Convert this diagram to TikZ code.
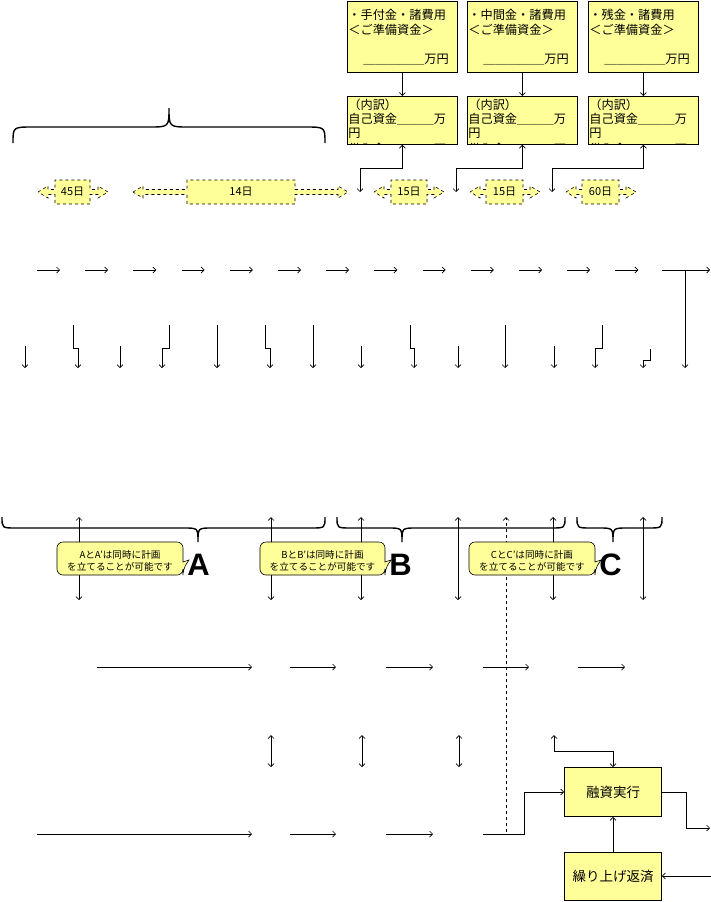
\documentclass[tikz,border=0pt]{standalone}
\usepackage{fontspec}
\setmainfont{Noto Sans CJK JP}
\newfontfamily\lettre{Liberation Sans}
\usetikzlibrary{positioning}
\usetikzlibrary{arrows.meta}

\definecolor{jaune}{HTML}{FFFF99}

\tikzset{
  >={Straight Barb[length=3pt, width=6pt]},
  boite/.style={draw, fill=jaune, line width=0.8pt, inner sep=0pt, anchor=north west},
  texte/.style={inner sep=0pt, anchor=west, font=\fontsize{12.2}{15}\selectfont},
  fleche/.style={->, line width=0.7pt},
  accolade/.style={line width=1.4pt},
}

\begin{document}
\begin{tikzpicture}[x=1pt, y=-1pt, line width=0.7pt]
        \useasboundingbox (0,0) rectangle (711,902);
        \def\hb{71}   % hauteur des cadres du haut
        \def\hc{48}   % hauteur des cadres du detail

        % Cadres des fonds a preparer et leur detail
        \foreach \x/\nom/\xj [count=\i] in {347/手付金/360, 467/中間金/456, 588/残金/552} {
            \node[boite, minimum width=110pt, minimum height=\hb pt] (haut\i) at (\x,1) {};
            \node[texte] (titre\i) at (\x+1,15) {・\nom・諸費用};
            \node[texte] (prep\i) at (\x+1,30) {＜ご準備資金＞};
            \node[texte] (montant\i) at (\x+16,60) {＿＿＿＿＿万円};
            \node[boite, minimum width=110pt, minimum height=\hc pt] (bas\i) at (\x,96) {};
            \begin{scope}
                \clip (bas\i.north west) rectangle (bas\i.south east);
                \node[texte] (detail\i) at (\x+1,105) {（内訳）};
                \node[texte] (propre\i) at (\x+1,119) {自己資金＿＿＿万};
                \node[texte] (yen\i) at (\x+1,133) {円};
                \node[texte] (pret\i) at (\x+1,149) {借入金＿＿＿＿万};
            \end{scope}
            \draw[fleche] (haut\i) -- (bas\i);
            \coordinate (jour\i) at (\xj,192);
            \draw[<->] (bas\i.south) -- ++(0,24) -| (jour\i);
        }

        % Durees (fleches pointillees)
        \foreach \a/\b/\c/\d/\lab [count=\k] in {38/55/90/108/45日, 133/187/295/348/14日,
                374/391/427/444/15日, 470/486/523/540/15日, 566/582/619/636/60日} {
            \draw[fill=jaune, dashed, line width=0.6pt]
                (\a,192) -- (\a+10,186) -- (\a+10,189.5) -- (\b,189.5) -- (\b,180)
                -- (\c,180) -- (\c,189.5) -- (\d-10,189.5) -- (\d-10,186) -- (\d,192)
                -- (\d-10,198) -- (\d-10,194.5) -- (\c,194.5) -- (\c,204) -- (\b,204)
                -- (\b,194.5) -- (\a+10,194.5) -- (\a+10,198) -- cycle;
            \node[font=\fontsize{11}{12}\selectfont, inner sep=0pt] (duree\k) at ({(\b+\c)/2},192) {\lab};
        }

        % Accolades
        \foreach \xl/\xt/\xr/\ya/\yb/\yc/\r in {13/169/325/143/127/108/20,
                2/198/325/517/528/542/14, 337/402/565/517/528/542/14, 577/613/662/517/528/542/14} {
            \draw[accolade] (\xl,\ya) .. controls (\xl,\yb) .. (\xl+\r,\yb) -- (\xt-\r,\yb)
                .. controls (\xt,\yb) .. (\xt,\yc) .. controls (\xt,\yb) .. (\xt+\r,\yb)
                -- (\xr-\r,\yb) .. controls (\xr,\yb) .. (\xr,\ya);
        }

        % Rangee de fleches horizontales
        \foreach \i in {0,...,12} {
            \draw[fleche] (37+48.2*\i,270) -- ++(23,0);
        }
        \draw[fleche] (662,270) -- (710,270);
        \draw[fleche] (685,270) -- (685,368);

        % Rangee de fleches verticales
        \foreach \x/\y in {25/346, 120/346, 217/325, 313/325, 361/346, 458/346, 505/325, 554/346} {
            \draw[fleche] (\x,\y) -- (\x,368);
        }
        \foreach \a/\b in {73/78, 169/162, 265/270, 410/414, 602/595} {
            \draw[fleche] (\a,325) -- (\a,348) -- (\b,348) -- (\b,368);
        }
        \draw[fleche] (650,349) -- (650,360) -- (643,360) -- (643,368);

        % Fleches doubles sous les accolades
        \foreach \x in {79, 271, 361, 458, 553, 643} {
            \draw[<->] (\x,517) -- (\x,600);
        }
        \draw[->, dashed] (506,832) -- (506,517);

        % Bulles et lettres
        \foreach \xa/\xb/\lab [count=\k] in {57/183/A, 260/385/B, 469/595/C} {
            \draw[fill=jaune, line width=0.6pt, rounded corners=6pt]
                (\xb,562) -- (\xb,542) -- (\xa,542) -- (\xa,575) -- (\xb,575) -- (\xb,569)
                [sharp corners] -- (\xb+6,560) -- (\xb,562) -- cycle;
            \node[font=\fontsize{9.6}{12}\selectfont, align=center, inner sep=0pt] (bulle\k)
                at ({(\xa+\xb)/2},561) {\lab と\lab'は同時に計画\\を立てることが可能です};
            \node[font=\lettre\bfseries\fontsize{31}{31}\selectfont, anchor=base, inner sep=0pt]
                (lettre\k) at (\xb+15.5,575.5) {\lab};
        }

        % Rangees du bas
        \foreach \a/\b in {97/252, 290/336, 386/433, 483/529, 578/625} {
            \draw[fleche] (\a,667) -- (\b,667);
        }
        \foreach \x in {271, 362, 459} {
            \draw[<->] (\x,735) -- (\x,767);
        }
        \foreach \a/\b in {37/252, 290/336, 386/433} {
            \draw[fleche] (\a,834) -- (\b,834);
        }

        % Financement
        \node[boite, anchor=center, minimum width=97pt, minimum height=49pt,
            font=\fontsize{13.5}{15}\selectfont] (yushi) at (613,792) {融資実行};
        \node[boite, anchor=center, minimum width=97pt, minimum height=48pt,
            font=\fontsize{13.5}{15}\selectfont] (kuriage) at (613,876) {繰り上げ返済};
        \coordinate (c1) at (554,735);
        \coordinate (c2) at (483,834);
        \coordinate (c3) at (710,828);
        \coordinate (c4) at (711,876);
        \draw[<->] (c1) -- (554,751) -| (yushi.north);
        \draw[fleche] (c2) -- (524,834) |- (yushi.west);
        \draw[fleche] (yushi.east) -- (686,792) |- (c3);
        \draw[fleche] (kuriage) -- (yushi);
        \draw[fleche] (c4) -- (kuriage.east);
\end{tikzpicture}
\end{document}
